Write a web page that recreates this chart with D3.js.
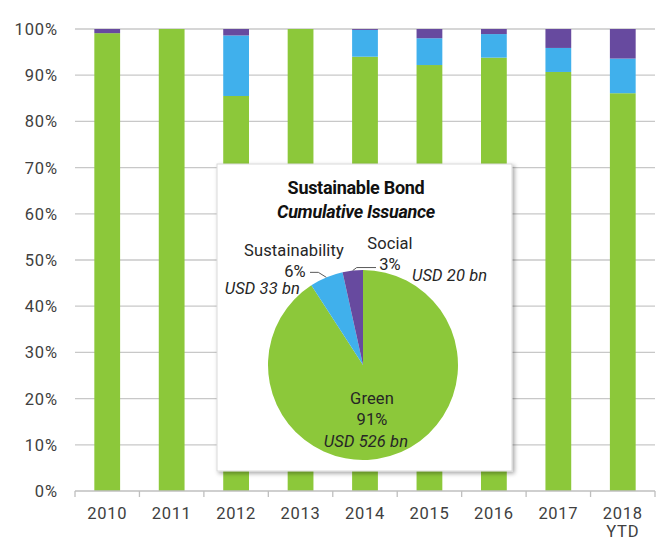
<!DOCTYPE html>
<html>
<head>
<meta charset="utf-8">
<script src="https://cdn.jsdelivr.net/npm/d3@7"></script>
<style>
  body { margin: 0; background: #fff; }
  svg { display: block; font-family: "Roboto", "Liberation Sans", sans-serif; }
</style>
</head>
<body>
<svg id="chart" width="657" height="540"></svg>
<script>
// Yearly share of issuance by bond type (percent)
const years = ["2010", "2011", "2012", "2013", "2014", "2015", "2016", "2017", "2018\nYTD"];
const greenShare = [99.1, 100, 85.5, 100, 94.0, 92.2, 93.8, 90.7, 86.1];
const sustainabilityShare = [0, 0, 13.1, 0, 5.8, 5.8, 5.1, 5.2, 7.5];
const socialShare = [0.9, 0, 1.4, 0, 0.2, 2.0, 1.1, 4.1, 6.4];
const yTicks = [0, 10, 20, 30, 40, 50, 60, 70, 80, 90, 100];

// Cumulative issuance (USD bn)
const pieTypes = ["Green", "Sustainability", "Social"];
const pieAmounts = [526, 33, 20];
const piePercents = ["91%", "6%", "3%"];

const colors = { Green: "#8cc83a", Sustainability: "#40b0ec", Social: "#674a9f" };

const svg = d3.select("#chart");
const margin = { left: 75, right: 2, top: 29, bottom: 49 };
const W = 657, H = 540;

const x = d3.scaleBand().domain(years).range([margin.left, W - margin.right]).paddingInner(0.6).paddingOuter(0.3);
const xBand = d3.scaleBand().domain(years).range([margin.left, W - margin.right]);
const y = d3.scaleLinear().domain([0, 100]).range([H - margin.bottom, margin.top]);

// gridlines
svg.append("g").selectAll("line").data(yTicks.filter(d => d > 0)).join("line")
  .attr("x1", margin.left).attr("x2", W - margin.right)
  .attr("y1", d => y(d)).attr("y2", d => y(d))
  .attr("stroke", "#c8c8c8").attr("stroke-width", 1.3);

// stacked bars
const rows = years.map((yr, i) => ({ year: yr, Green: greenShare[i], Sustainability: sustainabilityShare[i], Social: socialShare[i] }));
const stack = d3.stack().keys(pieTypes)(rows);
svg.append("g").selectAll("g").data(stack).join("g")
  .attr("fill", s => colors[s.key])
  .selectAll("rect").data(s => s).join("rect")
  .attr("x", d => x(d.data.year))
  .attr("width", x.bandwidth())
  .attr("y", d => y(d[1]))
  .attr("height", d => Math.max(0, y(d[0]) - y(d[1])));

// y axis labels
svg.append("g").selectAll("text").data(yTicks).join("text")
  .attr("x", 58).attr("y", d => y(d) + 6)
  .attr("text-anchor", "end")
  .attr("font-size", 16.5).attr("fill", "#404040")
  .attr("letter-spacing", 0.9)
  .text(d => d + "%");

// x axis
const xAxisG = svg.append("g");
xAxisG.append("line")
  .attr("x1", margin.left).attr("x2", W - margin.right)
  .attr("y1", y(0)).attr("y2", y(0))
  .attr("stroke", "#bfbfbf").attr("stroke-width", 1.3);
xAxisG.selectAll("line.tick").data(years.concat(["end"])).join("line")
  .attr("class", "tick")
  .attr("x1", (d, i) => i < years.length ? xBand(d) : W - margin.right)
  .attr("x2", (d, i) => i < years.length ? xBand(d) : W - margin.right)
  .attr("y1", y(0)).attr("y2", y(0) + 6)
  .attr("stroke", "#bfbfbf").attr("stroke-width", 1.3);
xAxisG.selectAll("text").data(years).join("text")
  .attr("x", d => xBand(d) + xBand.bandwidth() / 2)
  .attr("y", y(0) + 28)
  .attr("text-anchor", "middle")
  .attr("font-size", 16.5).attr("fill", "#404040")
  .attr("letter-spacing", 0.7)
  .each(function (d) {
    d.split("\n").forEach((t, j) => {
      d3.select(this).append("tspan")
        .attr("x", xBand(d) + xBand.bandwidth() / 2)
        .attr("dy", j === 0 ? 0 : 18)
        .text(t);
    });
  });

// inset panel with shadow
const defs = svg.append("defs");
const f = defs.append("filter").attr("id", "shadow").attr("x", "-10%").attr("y", "-10%").attr("width", "120%").attr("height", "120%");
f.append("feDropShadow").attr("dx", 2).attr("dy", 2).attr("stdDeviation", 2).attr("flood-color", "#000").attr("flood-opacity", 0.35);

const box = { x: 217, y: 164, w: 295, h: 307 };
svg.append("rect")
  .attr("x", box.x).attr("y", box.y).attr("width", box.w).attr("height", box.h)
  .attr("fill", "#fff").attr("stroke", "#d9d9d9").attr("stroke-width", 1)
  .attr("filter", "url(#shadow)");

svg.append("text")
  .attr("x", 356).attr("y", 194).attr("text-anchor", "middle")
  .attr("font-size", 18).attr("font-weight", "bold").attr("fill", "#111")
  .attr("letter-spacing", -0.3)
  .text("Sustainable Bond");
svg.append("text")
  .attr("x", 356).attr("y", 218).attr("text-anchor", "middle")
  .attr("font-size", 18).attr("font-weight", "bold").attr("font-style", "italic").attr("fill", "#111")
  .attr("letter-spacing", -0.3)
  .text("Cumulative Issuance");

// pie
const cx = 363, cy = 365, r = 95;
const pieData = d3.pie().sort(null).value(d => d.amount)(pieTypes.map((t, i) => ({ type: t, amount: pieAmounts[i] })));
const arc = d3.arc().innerRadius(0).outerRadius(r);
const pg = svg.append("g").attr("transform", `translate(${cx},${cy})`);
pg.selectAll("path").data(pieData).join("path")
  .attr("d", arc).attr("fill", d => colors[d.data.type]);

// leader lines
const edge = (d, k) => {
  const a = (d.startAngle + d.endAngle) / 2;
  return [cx + Math.sin(a) * r * k, cy - Math.cos(a) * r * k];
};
const sEdge = edge(pieData[1], 1);
const soEdge = edge(pieData[2], 1);
svg.append("path")
  .attr("d", `M${sEdge[0]},${sEdge[1]} L${sEdge[0] - 8},${sEdge[1] - 5} L${310},${sEdge[1] - 5}`)
  .attr("fill", "none").attr("stroke", "#595959").attr("stroke-width", 1);
svg.append("path")
  .attr("d", `M${soEdge[0]},${soEdge[1]} L${soEdge[0] + 4},${soEdge[1] - 3} L${376},${soEdge[1] - 3}`)
  .attr("fill", "none").attr("stroke", "#595959").attr("stroke-width", 1);

const lbl = (txt, xx, yy, anchor, italic) => svg.append("text")
  .attr("x", xx).attr("y", yy).attr("text-anchor", anchor)
  .attr("font-size", 16.5).attr("fill", "#262626")
  .attr("font-style", italic ? "italic" : "normal")
  .attr("letter-spacing", 0.1)
  .text(txt);

lbl(pieTypes[1], 294, 256, "middle", false);
lbl(piePercents[1], 295, 277, "middle", false);
lbl(`USD ${pieAmounts[1]} bn`, 300, 294, "end", true);

lbl(pieTypes[2], 390, 249, "middle", false);
lbl(piePercents[2], 390, 270, "middle", false);
lbl(`USD ${pieAmounts[2]} bn`, 412, 281, "start", true);

lbl(pieTypes[0], 372, 404, "middle", false);
lbl(piePercents[0], 372, 425, "middle", false);
lbl(`USD ${pieAmounts[0]} bn`, 366, 447, "middle", true);
</script>
</body>
</html>
